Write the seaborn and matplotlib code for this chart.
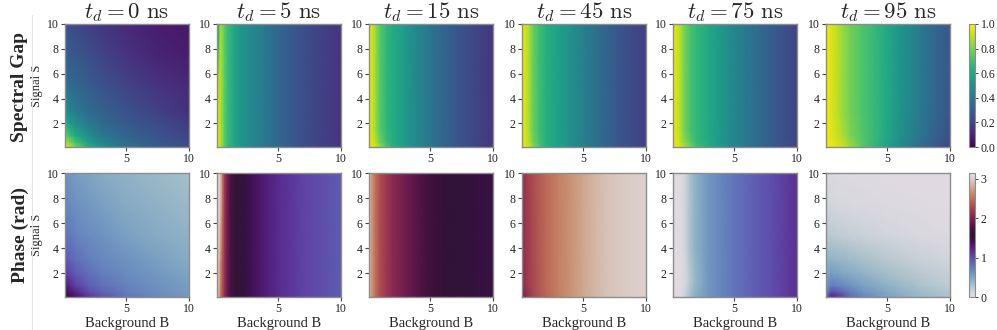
import numpy as np
import pandas as pd
import matplotlib
matplotlib.use("Agg")
import matplotlib.pyplot as plt
from matplotlib.lines import Line2D
import seaborn as sns

# ---------------- data ----------------
titles = [r"$t_d = 0\ \mathrm{ns}$", r"$t_d = 5\ \mathrm{ns}$", r"$t_d = 15\ \mathrm{ns}$",
          r"$t_d = 45\ \mathrm{ns}$", r"$t_d = 75\ \mathrm{ns}$", r"$t_d = 95\ \mathrm{ns}$"]
row_labels = ["Spectral Gap", "Phase (rad)"]
x_ticks = [5, 10]
y_ticks = [2, 4, 6, 8, 10]
gap_cbar_ticks = [0.0, 0.2, 0.4, 0.6, 0.8, 1.0]
phase_cbar_ticks = [0, 1, 2, 3]

# --- Spectral gap, t_d = 0 ns
gap0_B = [0.1, 0.5, 1, 2, 3, 5, 7.5, 10]
gap0_S = [0.1, 0.5, 1, 2, 3, 5, 7.5, 10]
gap0_Z = [
    [0.96, 0.88, 0.78, 0.61, 0.50, 0.37, 0.29, 0.25],
    [0.88, 0.80, 0.69, 0.55, 0.46, 0.35, 0.27, 0.22],
    [0.78, 0.69, 0.60, 0.49, 0.41, 0.32, 0.26, 0.20],
    [0.61, 0.55, 0.49, 0.41, 0.35, 0.28, 0.23, 0.17],
    [0.50, 0.46, 0.41, 0.35, 0.31, 0.25, 0.19, 0.14],
    [0.38, 0.35, 0.33, 0.29, 0.26, 0.20, 0.15, 0.12],
    [0.30, 0.28, 0.27, 0.24, 0.20, 0.15, 0.10, 0.08],
    [0.26, 0.24, 0.22, 0.19, 0.16, 0.12, 0.08, 0.06],
]
# --- Spectral gap, t_d = 5 ns
gap5_B = [0.1, 0.2, 0.35, 0.5, 0.7, 1, 1.5, 2, 3, 4, 5, 6.5, 8, 10]
gap5_S = [0.1, 2, 4, 6, 8, 10]
gap5_Z = [
    [0.97, 0.95, 0.90, 0.84, 0.75, 0.67, 0.59, 0.53, 0.46, 0.40, 0.33, 0.26, 0.20, 0.15],
    [0.97, 0.95, 0.90, 0.84, 0.75, 0.67, 0.59, 0.53, 0.46, 0.40, 0.33, 0.26, 0.20, 0.15],
    [0.88, 0.93, 0.90, 0.84, 0.75, 0.67, 0.59, 0.53, 0.46, 0.40, 0.33, 0.26, 0.20, 0.15],
    [0.60, 0.85, 0.90, 0.84, 0.75, 0.67, 0.59, 0.53, 0.46, 0.40, 0.33, 0.26, 0.20, 0.15],
    [0.45, 0.60, 0.88, 0.84, 0.75, 0.67, 0.59, 0.53, 0.46, 0.40, 0.33, 0.26, 0.20, 0.15],
    [0.42, 0.50, 0.85, 0.83, 0.75, 0.67, 0.59, 0.53, 0.46, 0.40, 0.33, 0.26, 0.20, 0.15],
]
# --- Spectral gap, t_d = 15 ns
gap15_B = [0.1, 0.4, 0.7, 1, 1.5, 2, 3, 4, 5, 6, 7, 8, 10]
gap15_S = [0.1, 0.5, 1.5, 10]
gap15_Z = [
    [0.98, 0.96, 0.92, 0.85, 0.72, 0.64, 0.55, 0.46, 0.39, 0.33, 0.27, 0.23, 0.16],
    [0.97, 0.94, 0.87, 0.78, 0.68, 0.62, 0.54, 0.46, 0.39, 0.33, 0.27, 0.23, 0.16],
    [0.97, 0.92, 0.83, 0.74, 0.66, 0.61, 0.54, 0.46, 0.39, 0.33, 0.27, 0.23, 0.16],
    [0.97, 0.92, 0.83, 0.74, 0.66, 0.61, 0.54, 0.46, 0.39, 0.33, 0.27, 0.23, 0.16],
]
# --- Spectral gap, t_d = 45 ns
gap45_B = [0.1, 0.4, 0.7, 1, 1.5, 2, 3, 4, 5, 6, 7, 8, 10]
gap45_S = [0.1, 0.5, 1.5, 10]
gap45_Z = [
    [0.98, 0.95, 0.90, 0.82, 0.72, 0.64, 0.57, 0.50, 0.43, 0.37, 0.31, 0.26, 0.19],
    [0.97, 0.94, 0.88, 0.79, 0.70, 0.63, 0.57, 0.50, 0.43, 0.37, 0.31, 0.26, 0.19],
    [0.97, 0.93, 0.86, 0.77, 0.69, 0.63, 0.57, 0.50, 0.43, 0.37, 0.31, 0.26, 0.19],
    [0.97, 0.93, 0.86, 0.77, 0.69, 0.63, 0.57, 0.50, 0.43, 0.37, 0.31, 0.26, 0.19],
]
# --- Spectral gap, t_d = 75 ns
gap75_B = [0.1, 0.4, 0.7, 1, 1.5, 2, 3, 4, 5, 6, 7, 8, 10]
gap75_S = [0.1, 0.5, 1.5, 10]
gap75_Z = [
    [0.98, 0.96, 0.93, 0.88, 0.80, 0.70, 0.61, 0.53, 0.46, 0.40, 0.34, 0.29, 0.20],
    [0.97, 0.95, 0.90, 0.83, 0.74, 0.67, 0.60, 0.53, 0.46, 0.40, 0.34, 0.29, 0.20],
    [0.97, 0.94, 0.88, 0.80, 0.71, 0.66, 0.60, 0.53, 0.46, 0.40, 0.34, 0.29, 0.20],
    [0.97, 0.94, 0.88, 0.80, 0.71, 0.66, 0.60, 0.53, 0.46, 0.40, 0.34, 0.29, 0.20],
]
# --- Spectral gap, t_d = 95 ns
gap95_B = [0.1, 0.5, 1, 1.5, 2, 3, 4, 5, 6, 7, 8, 9, 10]
gap95_S = [0.1, 1, 3, 10]
gap95_Z = [
    [0.98, 0.97, 0.95, 0.92, 0.86, 0.74, 0.66, 0.57, 0.48, 0.40, 0.33, 0.27, 0.21],
    [0.98, 0.96, 0.92, 0.87, 0.81, 0.73, 0.67, 0.59, 0.50, 0.43, 0.36, 0.30, 0.24],
    [0.98, 0.95, 0.90, 0.84, 0.79, 0.72, 0.67, 0.60, 0.52, 0.45, 0.38, 0.32, 0.27],
    [0.98, 0.95, 0.90, 0.84, 0.79, 0.72, 0.67, 0.60, 0.52, 0.45, 0.38, 0.32, 0.27],
]

# --- Phase, t_d = 0 ns
ph0_B = [0.1, 0.5, 1, 2, 3, 5, 7.5, 10]
ph0_S = [0.1, 0.5, 1, 2, 3, 5, 7.5, 10]
ph0_Z = [
    [1.60, 1.45, 1.32, 1.12, 0.98, 0.80, 0.67, 0.58],
    [1.45, 1.33, 1.19, 1.01, 0.90, 0.75, 0.64, 0.56],
    [1.32, 1.19, 1.06, 0.92, 0.83, 0.71, 0.62, 0.54],
    [1.12, 1.01, 0.92, 0.82, 0.75, 0.66, 0.58, 0.50],
    [0.98, 0.90, 0.83, 0.75, 0.69, 0.62, 0.53, 0.46],
    [0.81, 0.76, 0.71, 0.66, 0.62, 0.53, 0.46, 0.41],
    [0.70, 0.66, 0.62, 0.58, 0.53, 0.46, 0.41, 0.36],
    [0.63, 0.59, 0.55, 0.50, 0.46, 0.41, 0.36, 0.31],
]
# --- Phase, t_d = 5 ns
ph5_B = [0.1, 0.25, 0.4, 0.55, 0.7, 0.9, 1.2, 1.6, 2, 2.5, 3.5, 5, 7, 10]
ph5_S = [0.1, 3, 6, 10]
ph5_Z = [
    [3.05, 2.85, 2.50, 2.30, 2.12, 1.93, 1.75, 1.62, 1.55, 1.47, 1.32, 1.18, 1.05, 0.93],
    [3.10, 2.95, 2.62, 2.36, 2.15, 1.95, 1.75, 1.62, 1.55, 1.47, 1.32, 1.18, 1.05, 0.93],
    [3.12, 3.05, 2.80, 2.45, 2.18, 1.97, 1.75, 1.62, 1.55, 1.47, 1.32, 1.18, 1.05, 0.93],
    [3.12, 3.08, 2.92, 2.52, 2.20, 1.98, 1.75, 1.62, 1.55, 1.47, 1.32, 1.18, 1.05, 0.93],
]
# --- Phase, t_d = 15 ns
ph15_B = [0.1, 0.3, 0.6, 1, 1.5, 2, 3, 4, 5, 6, 7, 8, 10]
ph15_S = [0.1, 10]
ph15_Z = [
    [2.97, 2.70, 2.50, 2.30, 2.18, 2.08, 1.94, 1.82, 1.70, 1.63, 1.58, 1.54, 1.47],
    [2.97, 2.70, 2.50, 2.30, 2.18, 2.08, 1.94, 1.82, 1.70, 1.63, 1.58, 1.54, 1.47],
]
# --- Phase, t_d = 45 ns
ph45_B = [0.1, 0.5, 1, 1.5, 2, 3, 4, 5, 6, 7, 8, 10]
ph45_S = [0.1, 1, 10]
ph45_Z = [
    [1.95, 2.12, 2.25, 2.35, 2.43, 2.56, 2.67, 2.77, 2.86, 2.92, 2.96, 3.02],
    [2.08, 2.18, 2.29, 2.37, 2.45, 2.57, 2.67, 2.77, 2.86, 2.92, 2.96, 3.02],
    [2.10, 2.20, 2.30, 2.38, 2.45, 2.57, 2.67, 2.77, 2.86, 2.92, 2.96, 3.02],
]
# --- Phase, t_d = 75 ns
ph75_B = [0.1, 0.5, 0.8, 1.1, 1.4, 1.8, 2.5, 3, 4, 5, 6, 7, 8, 10]
ph75_S = [0.1, 1.5, 4, 10]
ph75_Z = [
    [0.02, 0.03, 0.08, 0.20, 0.30, 0.42, 0.53, 0.60, 0.70, 0.80, 0.87, 0.94, 1.00, 1.15],
    [0.02, 0.02, 0.03, 0.10, 0.22, 0.36, 0.50, 0.60, 0.70, 0.80, 0.87, 0.94, 1.00, 1.15],
    [0.02, 0.02, 0.05, 0.15, 0.28, 0.40, 0.52, 0.60, 0.70, 0.80, 0.87, 0.94, 1.00, 1.15],
    [0.02, 0.02, 0.05, 0.15, 0.28, 0.40, 0.52, 0.60, 0.70, 0.80, 0.87, 0.94, 1.00, 1.15],
]
# --- Phase, t_d = 95 ns
ph95_B = [0.1, 0.5, 1, 2, 3, 5, 7.5, 10]
ph95_S = [0.1, 0.5, 1, 2, 3, 5, 7.5, 10]
ph95_Z = [
    [0.85, 1.25, 1.15, 0.85, 0.70, 0.52, 0.38, 0.28],
    [0.70, 1.00, 0.95, 0.75, 0.62, 0.48, 0.35, 0.26],
    [0.58, 0.75, 0.72, 0.62, 0.53, 0.42, 0.30, 0.22],
    [0.48, 0.55, 0.52, 0.46, 0.41, 0.32, 0.24, 0.18],
    [0.40, 0.42, 0.40, 0.36, 0.32, 0.25, 0.18, 0.13],
    [0.25, 0.24, 0.22, 0.19, 0.17, 0.13, 0.09, 0.06],
    [0.13, 0.12, 0.10, 0.09, 0.08, 0.06, 0.04, 0.03],
    [0.08, 0.07, 0.06, 0.05, 0.04, 0.03, 0.02, 0.01],
]

gap_panels = [(gap0_B, gap0_S, gap0_Z), (gap5_B, gap5_S, gap5_Z), (gap15_B, gap15_S, gap15_Z),
              (gap45_B, gap45_S, gap45_Z), (gap75_B, gap75_S, gap75_Z), (gap95_B, gap95_S, gap95_Z)]
phase_panels = [(ph0_B, ph0_S, ph0_Z), (ph5_B, ph5_S, ph5_Z), (ph15_B, ph15_S, ph15_Z),
                (ph45_B, ph45_S, ph45_Z), (ph75_B, ph75_S, ph75_Z), (ph95_B, ph95_S, ph95_Z)]

# ---------------- style ----------------
sns.set_theme(style="ticks")
plt.rcParams["font.family"] = ["Liberation Serif", "DejaVu Serif"]
plt.rcParams["mathtext.fontset"] = "cm"
SPINE = "#8c8c8c"

W, H = 997, 330
fig = plt.figure(figsize=(W / 100, H / 100), dpi=100)

col_left = [65, 217, 369, 522, 673, 826]
ax_w = 124
rows = [(24, 147), (173, 297)]


def fig_rect(x0, y0, w, h):
    return [x0 / W, 1 - (y0 + h) / H, w / W, h / H]


def draw_panel(ax, B, S, Z, cmap, vmax):
    df = pd.DataFrame(np.array(Z, dtype=float), index=S, columns=B)
    sns.heatmap(df, ax=ax, cmap=cmap, vmin=0, vmax=vmax, cbar=False,
                shading="gouraud", xticklabels=False, yticklabels=False)
    mesh = ax.collections[-1]
    BB, SS = np.meshgrid(np.asarray(B, float), np.asarray(S, float))
    mesh._coordinates = np.dstack([BB, SS])
    mesh._paths = None
    ax.set_xlim(0.1, 10)
    ax.set_ylim(0.1, 10)
    for sp in ax.spines.values():
        sp.set_visible(True)
        sp.set_color(SPINE)
        sp.set_linewidth(1.0)
    ax.set_xticks(x_ticks)
    ax.set_yticks(y_ticks)
    ax.set_xticklabels([str(t) for t in x_ticks])
    ax.set_yticklabels([str(t) for t in y_ticks])
    ax.tick_params(axis="both", direction="out", length=3, width=0.8,
                   color="#444444", labelsize=8.5, pad=1.5, labelcolor="#222222")
    ax.set_xlabel("")
    ax.set_ylabel("")
    return mesh


for r, (panels, cmap, vmax) in enumerate([(gap_panels, "viridis", 1.0),
                                           (phase_panels, "twilight", np.pi)]):
    y0, y1 = rows[r]
    mesh = None
    for c, (B, S, Z) in enumerate(panels):
        ax = fig.add_axes(fig_rect(col_left[c], y0, ax_w, y1 - y0))
        mesh = draw_panel(ax, B, S, Z, cmap, vmax)
        if r == 0:
            ax.set_title(titles[c], fontsize=16.5, pad=3)
        else:
            ax.set_xlabel("Background B", fontsize=10.5, labelpad=1)
        if c == 0:
            ax.set_ylabel("Signal S", fontsize=9, labelpad=3)
    cax = fig.add_axes(fig_rect(969, y0, 6, y1 - y0))
    cb = fig.colorbar(mesh, cax=cax)
    cb.set_ticks(gap_cbar_ticks if r == 0 else phase_cbar_ticks)
    if r == 0:
        cb.set_ticklabels([f"{t:.1f}" for t in gap_cbar_ticks])
    cb.outline.set_edgecolor(SPINE)
    cb.outline.set_linewidth(0.8)
    cax.tick_params(labelsize=8.5, length=2.5, width=0.7, color="#444444",
                    pad=1.5, labelcolor="#222222")

fig.text(20 / W, 1 - 87 / H, row_labels[0], rotation=90, fontsize=14,
         fontweight="bold", ha="center", va="center")
fig.text(20 / W, 1 - 235 / H, row_labels[1], rotation=90, fontsize=14,
         fontweight="bold", ha="center", va="center")
fig.add_artist(Line2D([32 / W, 32 / W], [0, 1 - 15 / H], transform=fig.transFigure,
                      color="#e4e4e4", lw=0.8))

fig.savefig("out.png", dpi=100)
